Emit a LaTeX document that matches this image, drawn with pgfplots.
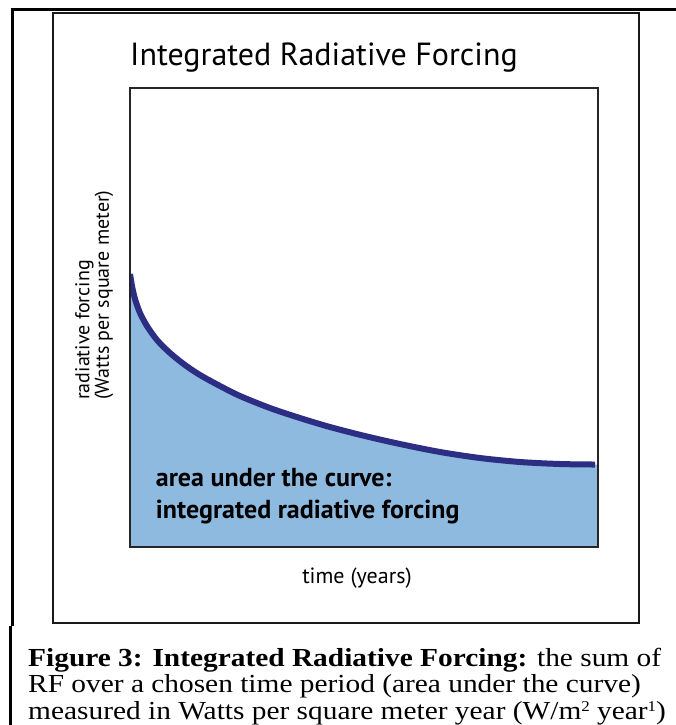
\documentclass[border=0pt]{standalone}
\usepackage{pgfplots}
\pgfplotsset{compat=1.18}
\usepackage{pgfplotstable}
\usepackage{fontspec}
\setmainfont{Liberation Serif}
\newfontfamily\chartfont{PT Sans}
\newfontfamily\captionfont{Liberation Serif}[FakeStretch=1.13]
\newcommand\capsup[1]{\raisebox{0.3em}{\fontsize{15}{15}\selectfont #1}}

\definecolor{areablue}{HTML}{8FBAE0}
\definecolor{curveblue}{HTML}{2B2E83}

\pgfplotstableread{
t rf
0 59.48
0.43 56.86
1.07 54.03
2.14 50.98
3.63 48.15
5.77 45.10
8.55 42.27
11.75 39.65
14.96 37.47
19.23 35.08
23.50 32.90
29.91 30.28
36.32 28.10
42.74 26.14
50.21 24.18
57.69 22.44
66.24 20.70
74.79 19.39
83.33 18.52
91.88 18.08
99.36 17.97
}\rfdata

\begin{document}
\begin{tikzpicture}
\useasboundingbox (0pt,0pt) rectangle (676pt,-725pt);
% page frame and figure box
\draw[line width=3pt] (676pt,-10pt) -- (12pt,-10pt) -- (12pt,-626pt);
\draw[line width=3pt] (10pt,-626pt) -- (10pt,-725pt);
\draw[line width=2.5pt, black!90] (53pt,-13pt) rectangle (639pt,-623pt);

\begin{axis}[
  at={(130pt,-547pt)}, anchor=south west,
  width=468pt, height=459pt, scale only axis,
  xmin=0, xmax=100, ymin=0, ymax=100,
  ticks=none,
  axis on top,
  axis line style={line width=2pt, black!85},
  title={\chartfont\fontsize{32}{38}\selectfont Integrated Radiative Forcing},
  title style={at={(axis description cs:0,1)}, anchor=base west, inner sep=0pt, yshift=17pt},
  xlabel={\chartfont\fontsize{22}{26}\selectfont time (years)},
  xlabel style={at={(axis description cs:0.485,0)}, anchor=base, inner sep=0pt, yshift=-36pt},
]
% area under the curve
\addplot[fill=areablue, draw=none, smooth] table[x=t, y=rf] {\rfdata}
  -- (axis cs:100,17.95) \closedcycle;
% radiative forcing curve
\addplot[curveblue, line width=6pt, smooth] table[x=t, y=rf] {\rfdata};
\node[anchor=base west, inner sep=0pt, font=\chartfont\bfseries\fontsize{26}{31}\selectfont]
  at (axis cs:5.5,13.1) {area under the curve:};
\node[anchor=base west, inner sep=0pt, font=\chartfont\bfseries\fontsize{26}{31}\selectfont]
  at (axis cs:5.5,6.3) {integrated radiative forcing};
\end{axis}

% y label, two lines flush to the bottom
\node[rotate=90, anchor=north west, align=left, inner sep=0pt,
      font=\chartfont\fontsize{20}{17.5}\selectfont]
  at (75pt,-400pt) {radiative forcing\\(Watts per square meter)};

% caption
\begin{scope}[every node/.style={anchor=base west, inner sep=0pt, font=\captionfont\fontsize{26}{26}\selectfont}]
\node at (28pt,-666pt) {\textbf{Figure 3: Integrated Radiative Forcing:} the sum of};
\node at (28pt,-692pt) {RF over a chosen time period (area under the curve)};
\node at (28pt,-719pt) {measured in Watts per square meter year (W/m\capsup{2} year\capsup{1})};
\end{scope}
\end{tikzpicture}
\end{document}
